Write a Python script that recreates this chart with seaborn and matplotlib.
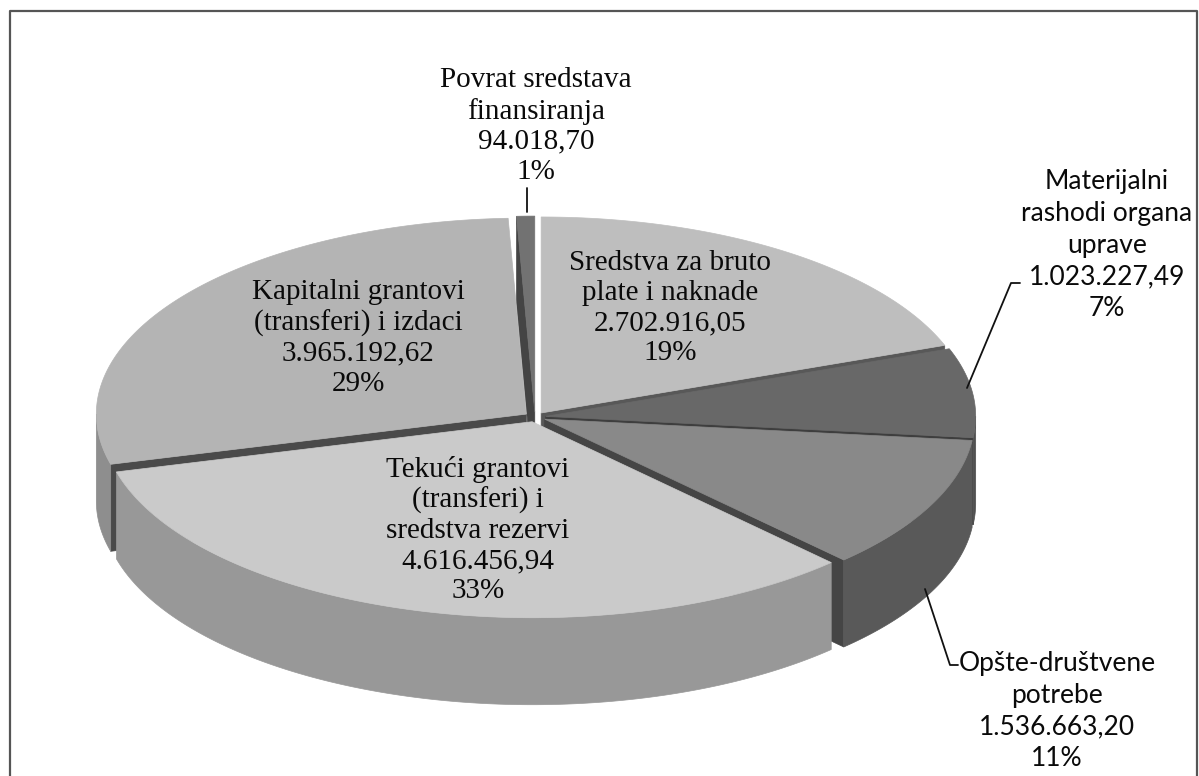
import matplotlib.pyplot as plt
import numpy as np
import seaborn as sns
from matplotlib.patches import Polygon

# Data (clockwise from 12 o'clock)
categories = ['Sredstva za bruto\nplate i naknade',
              'Materijalni\nrashodi organa\nuprave',
              'Opšte-društvene\npotrebe',
              'Tekući grantovi\n(transferi) i\nsredstva rezervi',
              'Kapitalni grantovi\n(transferi) i izdaci',
              'Povrat sredstava\nfinansiranja']
amounts = [2702916.05, 1023227.49, 1536663.20, 4616456.94, 3965192.62, 94018.70]

# grey tones of the scanned chart: top face, outer wall, cut face
top_colors = sns.color_palette(['#bebebe', '#686868', '#898989', '#cacaca', '#b4b4b4', '#727272'])
wall_colors = sns.color_palette(['#979797', '#505050', '#595959', '#989898', '#8e8e8e', '#565656'])
face_colors = sns.color_palette(['#585858', '#3e3e3e', '#454545', '#5a5a5a', '#4a4a4a', '#444444'])

# label layout (pixel coords of the text block centre) and fonts
label_pos = [(670, 308), (1107, 245), (1057, 711), (478, 530), (358, 338), (536, 126)]
label_font = ['Liberation Serif', 'Lato', 'Lato', 'Liberation Serif', 'Liberation Serif', 'Liberation Serif']


def eu_format(v):
    s = '{:,.2f}'.format(v)
    return s.replace(',', 'X').replace('.', ',').replace('X', '.')


def excel_percents(vals):
    # percentages rounded so that they add up to 100 (largest remainder)
    vals = np.asarray(vals, dtype=float)
    p = vals / vals.sum() * 100
    fl = np.floor(p).astype(int)
    rest = 100 - fl.sum()
    order = np.argsort(-(p - fl))
    fl[order[:rest]] += 1
    return fl


sns.set_theme(style='white')
fig = plt.figure(figsize=(11.99, 7.76), dpi=100)
ax = fig.add_axes([0, 0, 1, 1])
ax.set_xlim(0, 1199)
ax.set_ylim(776, 0)
ax.axis('off')

# pie geometry in pixels
cx, cy = 535, 417
a, b = 430, 196
depth = 87
explode = 0.025

vals = np.asarray(amounts)
frac = vals / vals.sum()
ends = np.cumsum(frac) * 360
starts = ends - frac * 360
mids = (starts + ends) / 2


def pts(thetas, off):
    th = np.radians(thetas)
    return np.column_stack([cx + off[0] + a * np.sin(th), cy + off[1] - b * np.cos(th)])


offsets = [(explode * a * np.sin(np.radians(m)), -explode * b * np.cos(np.radians(m))) for m in mids]

z = 1
# sides, back to front
order = np.argsort(-np.cos(np.radians(mids)))
for i in order:
    s, e, off = starts[i], ends[i], offsets[i]
    c0 = np.array([cx + off[0], cy + off[1]])
    dz = np.array([0, depth])
    # radial cut faces
    for ang, visible in [(s, np.sin(np.radians(s)) < 0), (e, np.sin(np.radians(e)) > 0)]:
        if visible:
            p = pts([ang], off)[0]
            poly = [c0, p, p + dz, c0 + dz]
            ax.add_patch(Polygon(poly, closed=True, facecolor=face_colors[i],
                                 edgecolor=face_colors[i], lw=0.5, zorder=z))
            z += 1
    # outer wall
    lo, hi = max(s, 90), min(e, 270)
    if hi > lo:
        th = np.linspace(lo, hi, int((hi - lo) * 3) + 2)
        top = pts(th, off)
        poly = np.vstack([top, (top + dz)[::-1]])
        ax.add_patch(Polygon(poly, closed=True, facecolor=wall_colors[i],
                             edgecolor=wall_colors[i], lw=0.5, zorder=z))
        z += 1

# top faces
for i in range(len(vals)):
    s, e, off = starts[i], ends[i], offsets[i]
    th = np.linspace(s, e, int((e - s) * 3) + 2)
    poly = np.vstack([[cx + off[0], cy + off[1]], pts(th, off)])
    ax.add_patch(Polygon(poly, closed=True, facecolor=top_colors[i],
                         edgecolor=top_colors[i], lw=0.5, zorder=z))
    z += 1

# data labels
pcts = excel_percents(vals)
for i, cat in enumerate(categories):
    txt = '%s\n%s\n%d%%' % (cat, eu_format(vals[i]), pcts[i])
    serif = label_font[i] == 'Liberation Serif'
    ax.text(label_pos[i][0], label_pos[i][1], txt, ha='center', va='center',
            family=label_font[i], fontsize=21 if serif else 19,
            linespacing=1.2 if serif else 1.33, color='#0a0a0a', zorder=z + 5)

# leader lines
ax.plot([527, 527], [188, 212], color='#111111', lw=1.3, zorder=z + 6)
ax.plot([967, 1011, 1020], [388, 283, 283], color='#111111', lw=1.3, zorder=z + 6)
ax.plot([925, 950, 958], [589, 665, 665], color='#111111', lw=1.3, zorder=z + 6)

# frame of the scanned figure
ax.plot([10, 10, 1197, 1197], [776, 11, 11, 776], color='#555555', lw=1.6, zorder=z + 7)

fig.savefig('out.png', dpi=100)
